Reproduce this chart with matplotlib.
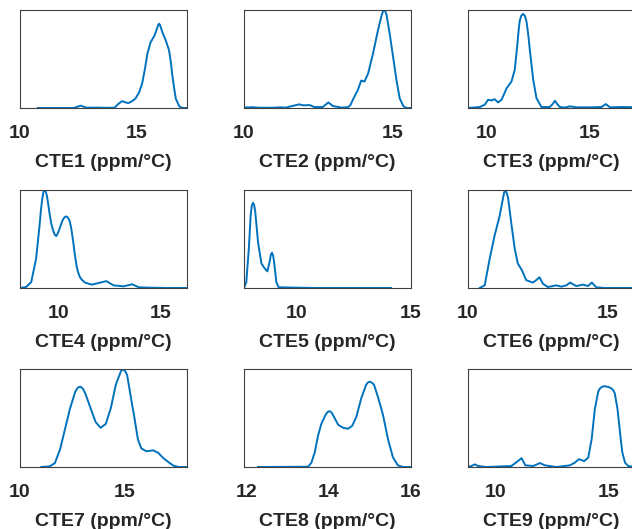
import numpy as np
import matplotlib.pyplot as plt

plt.rcParams['font.family'] = ['Liberation Sans', 'DejaVu Sans']

# ---- data (y = fraction of panel height) ----
labels = ['CTE1 (ppm/°C)', 'CTE2 (ppm/°C)', 'CTE3 (ppm/°C)',
          'CTE4 (ppm/°C)', 'CTE5 (ppm/°C)', 'CTE6 (ppm/°C)',
          'CTE7 (ppm/°C)', 'CTE8 (ppm/°C)', 'CTE9 (ppm/°C)']

cte1_x = [10.76, 11.5, 12.3, 12.6, 12.85, 13.3, 13.7, 14.05, 14.2, 14.37, 14.55, 14.65, 14.8, 14.94,
          15.1, 15.23, 15.35, 15.45, 15.59, 15.76, 15.88, 15.92, 15.95, 15.99, 16.02, 16.1, 16.24,
          16.38, 16.45, 16.53, 16.6, 16.67, 16.82, 16.96, 17.15]
cte1_y = [0.0, 0.0, 0.0, 0.024, 0.003, 0.004, 0.002, 0.003, 0.04, 0.07, 0.055, 0.05, 0.07, 0.095,
          0.16, 0.25, 0.4, 0.55, 0.67, 0.74, 0.82, 0.85, 0.86, 0.85, 0.83, 0.77, 0.69,
          0.59, 0.48, 0.32, 0.2, 0.095, 0.017, 0.0, 0.0]

cte2_x = [10.0, 10.28, 10.5, 11.0, 11.2, 11.4, 11.57, 11.85, 12.0, 12.2, 12.36, 12.64, 12.83, 12.98,
          13.26, 13.48, 13.57, 13.65, 13.82, 13.93, 14.04, 14.16, 14.33, 14.49, 14.61, 14.66, 14.7,
          14.74, 14.78, 14.89, 15.0, 15.11, 15.22, 15.34, 15.45, 15.6]
cte2_y = [0.005, 0.008, 0.003, 0.003, 0.007, 0.004, 0.017, 0.037, 0.027, 0.03, 0.01, 0.01, 0.057, 0.02,
          0.005, 0.007, 0.03, 0.084, 0.185, 0.28, 0.27, 0.35, 0.56, 0.79, 0.94, 0.985, 1.0,
          0.985, 0.95, 0.75, 0.52, 0.29, 0.10, 0.02, 0.0, 0.0]

cte3_x = [9.11, 9.68, 9.92, 10.08, 10.24, 10.4, 10.56, 10.73, 10.85, 10.97, 11.21, 11.37, 11.5, 11.56,
          11.61, 11.68, 11.77, 11.86, 11.94, 12.02, 12.1, 12.26, 12.42, 12.66, 13.06, 13.2, 13.31,
          13.42, 13.55, 13.8, 14.03, 14.35, 15.08, 15.56, 15.77, 15.97, 16.53, 17.18]
cte3_y = [0.0, 0.01, 0.034, 0.084, 0.077, 0.09, 0.057, 0.084, 0.14, 0.20, 0.27, 0.39, 0.66, 0.8,
          0.89, 0.94, 0.96, 0.94, 0.88, 0.75, 0.59, 0.29, 0.10, 0.01, 0.01, 0.04, 0.074,
          0.04, 0.01, 0.005, 0.017, 0.007, 0.007, 0.01, 0.04, 0.007, 0.01, 0.008]

cte4_x = [8.1, 8.4, 8.65, 8.89, 9.06, 9.13, 9.19, 9.25, 9.31, 9.37, 9.42, 9.48, 9.55, 9.63, 9.72,
          9.8, 9.88, 9.96, 10.05, 10.13, 10.21, 10.3, 10.38, 10.46, 10.54, 10.62, 10.71, 10.79,
          10.87, 10.95, 11.04, 11.15, 11.29, 11.62, 11.95, 12.33, 12.69, 13.18, 13.6, 13.93,
          14.5, 15.33, 16.29]
cte4_y = [0.0, 0.01, 0.06, 0.30, 0.64, 0.8, 0.91, 0.98, 1.0, 0.98, 0.94, 0.86, 0.76, 0.66, 0.59,
          0.545, 0.53, 0.56, 0.61, 0.66, 0.70, 0.725, 0.73, 0.715, 0.68, 0.6, 0.47, 0.34,
          0.23, 0.16, 0.11, 0.08, 0.055, 0.034, 0.051, 0.07, 0.027, 0.017, 0.038, 0.007,
          0.003, 0.0, 0.0]

cte5_x = [7.72, 7.82, 7.93, 8.01, 8.06, 8.11, 8.16, 8.21, 8.33, 8.48, 8.62, 8.74, 8.84, 8.89, 8.94,
          8.99, 9.03, 9.13, 9.23, 10.8, 14.13]
cte5_y = [0.0, 0.06, 0.40, 0.74, 0.84, 0.87, 0.85, 0.78, 0.47, 0.25, 0.20, 0.17, 0.27, 0.34, 0.36,
          0.33, 0.27, 0.06, 0.007, 0.0, 0.0]

cte6_x = [10.42, 10.6, 10.78, 10.96, 11.14, 11.26, 11.3, 11.34, 11.39, 11.44, 11.56, 11.68, 11.79,
          11.94, 12.09, 12.33, 12.45, 12.57, 12.69, 12.87, 13.17, 13.35, 13.53, 13.67, 13.89, 14.13,
          14.31, 14.45, 14.61, 14.9, 16.0]
cte6_y = [0.0, 0.027, 0.30, 0.54, 0.74, 0.92, 0.975, 1.0, 0.97, 0.92, 0.65, 0.40, 0.25,
          0.18, 0.08, 0.055, 0.08, 0.11, 0.044, 0.01, 0.027, 0.014, 0.027, 0.055, 0.02, 0.034,
          0.02, 0.055, 0.007, 0.0, 0.0]

cte7_x = [11.02, 11.43, 11.67, 11.92, 12.16, 12.4, 12.65, 12.77, 12.89, 13.01, 13.13, 13.38, 13.62,
          13.86, 14.11, 14.35, 14.59, 14.84, 14.9, 14.97, 15.05, 15.13, 15.32, 15.49, 15.65, 15.81,
          16.06, 16.38, 16.62, 16.87, 17.11, 17.35, 17.6, 18.0]
cte7_y = [0.0, 0.007, 0.04, 0.18, 0.39, 0.6, 0.77, 0.81, 0.82, 0.8, 0.75, 0.60, 0.46,
          0.40, 0.44, 0.60, 0.84, 0.98, 0.995, 0.99, 0.975, 0.94, 0.70, 0.49, 0.28, 0.19,
          0.16, 0.17, 0.145, 0.09, 0.05, 0.014, 0.0, 0.0]

cte8_x = [12.28, 13.5, 13.58, 13.66, 13.74, 13.82, 13.92, 13.97, 14.02, 14.07, 14.13, 14.23, 14.35,
          14.47, 14.57, 14.67, 14.79, 14.91, 14.96, 15.0, 15.05, 15.1, 15.2, 15.32, 15.44, 15.56,
          15.68, 15.81, 15.98]
cte8_y = [0.0, 0.003, 0.045, 0.15, 0.32, 0.44, 0.53, 0.56, 0.57, 0.555, 0.51, 0.43, 0.40,
          0.39, 0.42, 0.51, 0.70, 0.84, 0.865, 0.87, 0.86, 0.84, 0.71, 0.53, 0.285, 0.10,
          0.017, 0.0, 0.0]

cte9_x = [8.79, 8.94, 9.09, 9.24, 9.6, 10.7, 10.93, 11.15, 11.32, 11.66, 11.96, 12.18, 12.69, 13.28,
          13.5, 13.68, 13.91, 14.09, 14.24, 14.38, 14.53, 14.6, 14.71, 14.8, 14.9, 15.0, 15.12,
          15.2, 15.26, 15.38, 15.49, 15.59, 15.71, 15.85, 16.15]
cte9_y = [0.0, 0.01, 0.027, 0.01, 0.0, 0.01, 0.05, 0.09, 0.017, 0.01, 0.04, 0.017, 0.0, 0.017,
          0.045, 0.08, 0.06, 0.095, 0.285, 0.59, 0.77, 0.8, 0.82, 0.825, 0.82, 0.815, 0.80,
          0.78, 0.75, 0.59, 0.35, 0.15, 0.045, 0.01, 0.0]

curves = [(cte1_x, cte1_y), (cte2_x, cte2_y), (cte3_x, cte3_y),
          (cte4_x, cte4_y), (cte5_x, cte5_y), (cte6_x, cte6_y),
          (cte7_x, cte7_y), (cte8_x, cte8_y), (cte9_x, cte9_y)]

xlims = [(10, 17.15), (10, 15.6), (9.11, 17.18),
         (8.1, 16.29), (7.72, 15.0), (10, 16.0),
         (10, 18.0), (11.94, 16.0), (8.79, 16.15)]
xticks = [[10, 15], [10, 15], [10, 15],
          [10, 15], [10, 15], [10, 15],
          [10, 15], [12, 14, 16], [10, 15]]

# ---- layout (pixels of a 632x529 figure) ----
W, H = 632, 529
col_left = [20, 244, 468]
row_top = [10, 190, 369]
ax_w, ax_h = 167, 98

fig = plt.figure(figsize=(W / 100, H / 100), dpi=100)
dark = '#262626'

for i, (xs, ys) in enumerate(curves):
    r, c = divmod(i, 3)
    ax = fig.add_axes([col_left[c] / W, 1 - (row_top[r] + ax_h) / H, ax_w / W, ax_h / H])
    ax.plot(xs, ys, color='#0072BD', linewidth=1.4, solid_joinstyle='round')
    ax.set_xlim(*xlims[i])
    ax.set_ylim(0, 1.0)
    ax.set_xticks(xticks[i])
    ax.set_yticks([])
    ax.tick_params(axis='x', length=0, pad=12, labelsize=14, labelcolor=dark)
    for t in ax.get_xticklabels():
        t.set_fontweight('bold')
    for sp in ax.spines.values():
        sp.set_color('#404040')
        sp.set_linewidth(0.8)
    ax.set_xlabel(labels[i], fontsize=14, fontweight='bold', color=dark, labelpad=9)

fig.savefig('out.png', dpi=100)
